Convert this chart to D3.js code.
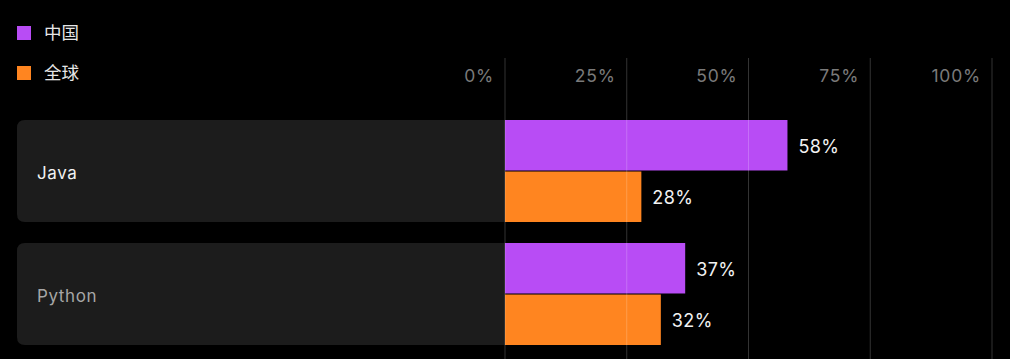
<!DOCTYPE html>
<html><head><meta charset="utf-8">
<script src="https://cdn.jsdelivr.net/npm/d3@7"></script>
<style>
html,body{margin:0;padding:0;background:#000;}
svg{display:block;font-family:Inter,"Noto Sans CJK SC",sans-serif;}
</style></head>
<body><svg id="c" width="1010" height="359"></svg>
<script>
const categories = ["Java", "Python"];
const seriesNames = ["中国", "全球"];
const chinaValues = [58, 37];
const globalValues = [28, 32];
const tickValues = [0, 25, 50, 75, 100];
const colors = ["#b84cf5", "#ff8520"];

const svg = d3.select("#c");
const x = d3.scaleLinear().domain([0, 100]).range([505, 992]);
const y = d3.scaleBand().domain(categories).range([120, 345]).paddingInner(21/123);
const sub = d3.scaleBand().domain([0, 1]).range([0, y.bandwidth()]).paddingInner(0.02);

// legend
const leg = svg.append("g");
seriesNames.forEach((n, i) => {
  const gy = 33 + i * 40;
  leg.append("rect").attr("x", 17).attr("y", gy - 7).attr("width", 14).attr("height", 14).attr("fill", colors[i]);
  leg.append("text").attr("x", 44).attr("y", gy).attr("dy", "0.35em").attr("fill", "#e6e6e6")
    .attr("font-size", 17.5).text(n);
});

// category panels
const rows = svg.append("g").selectAll("g").data(categories).join("g");
rows.append("path")
  .attr("d", d => {
    const x0 = 17, x1 = x(0), y0 = y(d), y1 = y(d) + y.bandwidth(), r = 8;
    return `M${x1},${y0}H${x0 + r}Q${x0},${y0} ${x0},${y0 + r}V${y1 - r}Q${x0},${y1} ${x0 + r},${y1}H${x1}Z`;
  })
  .attr("fill", "#1c1c1c");
rows.append("text")
  .attr("x", 37).attr("y", d => y(d) + y.bandwidth() / 2 + 2).attr("dy", "0.35em")
  .attr("fill", (d, i) => i === 0 ? "#f2f2f2" : "#a6a6a6")
  .attr("font-size", 17).attr("letter-spacing", 0.6).text(d => d);

// bars
const allSeries = [chinaValues, globalValues];
allSeries.forEach((vals, si) => {
  svg.append("g").selectAll("rect").data(categories).join("rect")
    .attr("x", x(0))
    .attr("y", d => y(d) + sub(si))
    .attr("width", (d, i) => x(vals[i]) - x(0))
    .attr("height", sub.bandwidth())
    .attr("fill", colors[si]);
  svg.append("g").selectAll("text").data(categories).join("text")
    .attr("x", (d, i) => x(vals[i]) + 11)
    .attr("y", d => y(d) + sub(si) + sub.bandwidth() / 2 + 1)
    .attr("dy", "0.35em")
    .attr("fill", "#f2f2f2").attr("font-size", 18).attr("letter-spacing", 0.4)
    .text((d, i) => vals[i] + "%");
});

// grid + ticks
const axis = svg.append("g");
axis.selectAll("line").data(tickValues).join("line")
  .attr("x1", d => x(d)).attr("x2", d => x(d))
  .attr("y1", 58).attr("y2", 359)
  .attr("stroke", "rgba(255,255,255,0.2)").attr("stroke-width", 1);
axis.selectAll("text").data(tickValues).join("text")
  .attr("x", d => x(d) - 11).attr("y", 76).attr("dy", "0.35em")
  .attr("text-anchor", "end").attr("fill", "#7a7a7a").attr("font-size", 17.5).attr("letter-spacing", 0.8)
  .text(d => d + "%");
</script></body></html>
